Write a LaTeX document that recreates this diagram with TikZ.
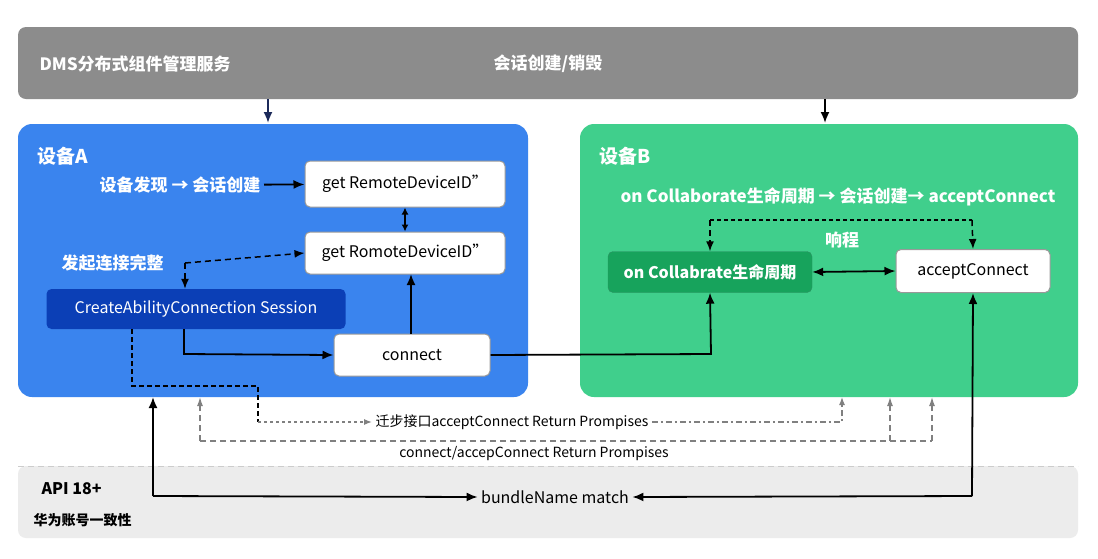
\documentclass[tikz,border=0pt]{standalone}
\usepackage{fontspec}
\setmainfont{Noto Sans CJK SC}
\usetikzlibrary{arrows.meta}
\definecolor{barg}{HTML}{8C8C8C}
\definecolor{bluA}{HTML}{3A84EE}
\definecolor{grnB}{HTML}{40CF8C}
\definecolor{dblue}{HTML}{0B3FB6}
\definecolor{dgrn}{HTML}{17A35C}
\definecolor{band}{HTML}{ECECEC}
\definecolor{navy}{HTML}{1C2A5A}
\begin{document}
\begin{tikzpicture}[x=1pt,y=-1pt,
  box/.style={draw=black!40,line width=1pt,fill=white,rounded corners=5pt,font=\fontsize{16}{18}\selectfont,inner sep=0pt},
  wt/.style={text=white,font=\bfseries\fontsize{17}{19}\selectfont},
  sl/.style={line width=1.8pt,-{Latex[length=11pt,width=9pt]}},
  ld/.style={dash pattern=on 6pt off 4pt},
  dl/.style={line width=1.5pt,ld,-{Latex[length=10pt,width=8pt]}},
  gd/.style={line width=1.3pt,ld,gray,-{Latex[length=9pt,width=6pt]}},
  lbl/.style={font=\fontsize{14}{16}\selectfont}]
\useasboundingbox (0,0) rectangle (1098,558);
\fill[white] (0,0) rectangle (1098,558);
% bars
\fill[barg,rounded corners=8pt] (18,27) rectangle (1078,99);
\fill[band,rounded corners=8pt] (18,466) rectangle (1078,538);
\draw[gray!40,ld] (18,466) -- (1078,466);
\fill[bluA,rounded corners=14pt] (18,124) rectangle (528,397);
\fill[grnB,rounded corners=14pt] (580,124) rectangle (1078,397);
\node[wt,anchor=west] (dms) at (36,64) {DMS分布式组件管理服务};
\node[wt] (sess) at (548,64) {会话创建/销毁};
\coordinate (b1) at (268,99); \coordinate (b2) at (825,99);
\draw[sl,navy] (b1) -- (268,123);
\draw[sl,black] (b2) -- (825,123);
% device A
\node[wt,anchor=west,font=\bfseries\fontsize{19}{21}\selectfont] (ta) at (34,156) {设备A};
\node[box,minimum width=200pt,minimum height=46pt] (g1) at (405,184) {get RemoteDeviceID”};
\node[box,minimum width=200pt,minimum height=42pt] (g2) at (405,253) {get RomoteDeviceID”};
\node[fill=dblue,rounded corners=5pt,text=white,font=\fontsize{16}{18}\selectfont,minimum width=299pt,minimum height=40pt,inner sep=0pt] (cr) at (196,309) {CreateAbilityConnection Session};
\node[box,minimum width=156pt,minimum height=42pt] (cn) at (412,355) {connect};
\node[wt,anchor=east] (disc) at (264,185) {设备发现 → 会话创建};
\node[wt,anchor=west] (init) at (58,263) {发起连接完整};
\draw[sl] (disc) -- (g1);
\draw[line width=1.8pt,{Latex[length=7pt,width=7pt]}-{Latex[length=7pt,width=7pt]}] (g1.south) -- (g2.north);
\draw[sl] (cn.north -| 411,0) -- (411,274);
\coordinate (d0) at (185,263);
\draw[dl] (d0) -- (g2.west);
\draw[dl] (d0) -- (cr.north -| d0);
\draw[sl] (184,329) -- (184,354) -- (cn.west);
% device B
\node[wt,anchor=west,font=\bfseries\fontsize{19}{21}\selectfont] (tb) at (596,156) {设备B};
\node[wt] (flow) at (838,197) {on Collaborate生命周期 → 会话创建→ acceptConnect};
\node[fill=dgrn,draw=grnB!70!black,rounded corners=5pt,text=white,font=\bfseries\fontsize{16}{18}\selectfont,minimum width=204pt,minimum height=41pt,inner sep=0pt] (oc) at (710,272) {on Collabrate生命周期};
\node[box,minimum width=154pt,minimum height=43pt] (ac) at (973,271) {acceptConnect};
\node[wt] (xc) at (842,240) {响程};
\draw[line width=1.5pt,dash pattern=on 4pt off 3pt] (710,220) -- (972,220);
\draw[dl] (710,220) -- (oc.north);
\draw[dl] (972,220) -- (ac.north);
\draw[line width=1.8pt,{Latex[length=11pt,width=9pt]}-{Latex[length=11pt,width=9pt]}] (oc.east) -- (ac.west);
\draw[sl] (cn.east) -- (711,354) -- (oc.south);
% return paths
\node[lbl] (r1) at (512,422) {迁步接口acceptConnect Return Prompises};
\node[lbl] (r2) at (534,454) {connect/accepConnect Return Prompises};
\draw[line width=1.5pt,dash pattern=on 5pt off 3pt] (132,329) -- (132,386) -- (258,386) -- (258,422);
\draw[gray,line width=1.3pt,dash pattern=on 3pt off 3pt,-{Latex[length=8pt,width=6pt]}] (258,422) -- (r1.west);
\draw[gray,line width=1.3pt,dash pattern=on 6pt off 3pt on 2pt off 3pt,-{Latex[length=8pt,width=6pt]}] (r1.east) -- (842,422) -- (842,397);
\draw[gd] (200,441) -- (200,397);
\draw[line width=1.3pt,ld,gray] (200,441) -- (932,441);
\draw[gd] (890,441) -- (890,397);
\draw[gd] (932,441) -- (932,397);
% bundle
\node[font=\fontsize{16}{18}\selectfont] (bn) at (555,497) {bundleName match};
\node[font=\bfseries\fontsize{16}{18}\selectfont,anchor=west] (api) at (38,489) {API 18+};
\node[font=\bfseries\fontsize{14}{16}\selectfont,anchor=west] (hw) at (30,520) {华为账号一致性};
\draw[sl] (153,496) -- (153,397);
\draw[sl] (153,496) -- (bn.west);
\draw[sl] (972,496) -- (ac.south);
\draw[sl] (972,496) -- (bn.east);
\end{tikzpicture}
\end{document}
